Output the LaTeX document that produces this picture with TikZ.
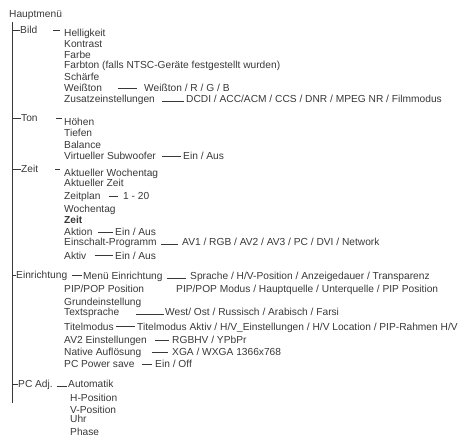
\documentclass[tikz,border=0pt]{standalone}
\usepackage{fontspec}
\setmainfont{Liberation Sans}
\usetikzlibrary{calc}
\definecolor{ink}{gray}{0.22}
\begin{document}
\begin{tikzpicture}[x=1pt,y=-1pt,
  t/.style={anchor=base west, inner sep=0pt, text=ink, font=\fontsize{10.2}{12}\selectfont},
  conn/.style={draw=ink, line width=0.8pt},
  trunk/.style={draw=ink, line width=1pt}]
\useasboundingbox (0,0) rectangle (462,435);
% level 0
\node[t] (hm) at (9,18) {Hauptmenü};
\coordinate (ttop) at (12,22);
\coordinate (tbot) at (12,403);
\draw[trunk] (ttop) -- (tbot);
% categories
\node[t] (bild) at (20,34) {Bild};
\node[t] (ton) at (21,122) {Ton};
\node[t] (zeit) at (21,173) {Zeit};
\node[t] (einr) at (16,278.5) {Einrichtung};
\node[t] (pcadj) at (18,387) {PC Adj.};
\foreach \n in {bild,ton,zeit,einr,pcadj}
  \draw[conn] (ttop |- \n.west) -- (\n.west);
% Bild
\node[t] (hell) at (64,36.5) {Helligkeit};
\node[t] (kontr) at (64,47.5) {Kontrast};
\node[t] (farbe) at (64,58.5) {Farbe};
\node[t] (farbton) at (64,68.5) {Farbton (falls NTSC-Geräte festgestellt wurden)};
\node[t] (schaerfe) at (64,80.5) {Schärfe};
\node[t] (weiss) at (64,91.5) {Weißton};
\node[t] (zusatz) at (64,102.5) {Zusatzeinstellungen};
\node[t] (weissv) at (144,91.5) {Weißton / R / G / B};
\node[t] (zusatzv) at (186,102.5) {DCDI / ACC/ACM / CCS / DNR / MPEG NR / Filmmodus};
\draw[conn, shorten <=16pt, shorten >=4pt] (bild.east) -- (bild.east -| hell.west);
\draw[conn, shorten <=16pt, shorten >=7pt] ([yshift=3.5pt]weiss.base east) -- ([yshift=3.5pt]weiss.base east -| weissv.west);
\draw[conn, shorten <=7pt, shorten >=2pt] ([yshift=1pt]zusatz.base east) -- ([yshift=1pt]zusatz.base east -| zusatzv.west);
% Ton
\node[t] (hoehen) at (64,125.5) {Höhen};
\node[t] (tiefen) at (64,137) {Tiefen};
\node[t] (balance) at (64,148.5) {Balance};
\node[t] (subw) at (64,159.5) {Virtueller Subwoofer};
\node[t] (subwv) at (183,159.5) {Ein / Aus};
\draw[conn, shorten <=18pt, shorten >=2pt] (ton.east) -- (ton.east -| hoehen.west);
\draw[conn, shorten <=6pt, shorten >=2pt] ([yshift=3.5pt]subw.base east) -- ([yshift=3.5pt]subw.base east -| subwv.west);
% Zeit
\node[t] (aktwt) at (64,176.5) {Aktueller Wochentag};
\node[t] (aktzeit) at (64,186.5) {Aktueller Zeit};
\node[t] (zeitplan) at (64,199.5) {Zeitplan};
\node[t] (wochentag) at (64,212.5) {Wochentag};
\node[t, font=\fontsize{10.2}{12}\selectfont\bfseries] (zeit2) at (64,223.5) {Zeit};
\node[t] (aktion) at (64,236) {Aktion};
\node[t] (einsch) at (64,245) {Einschalt-Programm};
\node[t] (aktiv) at (64,259) {Aktiv};
\node[t] (zeitplanv) at (123,199.5) {1 - 20};
\node[t] (aktionv) at (115,236) {Ein / Aus};
\node[t] (einschv) at (182,245) {AV1 / RGB / AV2 / AV3 / PC / DVI / Network};
\node[t] (aktivv) at (115,259) {Ein / Aus};
\draw[conn, shorten <=17pt, shorten >=4pt] (zeit.east) -- (zeit.east -| aktwt.west);
\draw[conn, shorten <=8pt, shorten >=5pt] ([yshift=3.5pt]zeitplan.base east) -- ([yshift=3.5pt]zeitplan.base east -| zeitplanv.west);
\draw[conn, shorten <=5pt, shorten >=2pt] ([yshift=3.5pt]aktion.base east) -- ([yshift=3.5pt]aktion.base east -| aktionv.west);
\draw[conn, shorten <=4pt, shorten >=4pt] ([yshift=1pt]einsch.base east) -- ([yshift=1pt]einsch.base east -| einschv.west);
\draw[conn, shorten <=8pt, shorten >=2pt] ([yshift=4pt]aktiv.base east) -- ([yshift=4pt]aktiv.base east -| aktivv.west);
% Einrichtung
\node[t] (menue) at (83,279.5) {Menü Einrichtung};
\node[t] (pip) at (64,292) {PIP/POP Position};
\node[t] (grund) at (64,305.5) {Grundeinstellung};
\node[t] (textspr) at (64,315.5) {Textsprache};
\node[t] (titel) at (64,330) {Titelmodus};
\node[t] (av2) at (64,343.5) {AV2 Einstellungen};
\node[t] (native) at (64,355.5) {Native Auflösung};
\node[t] (pcpower) at (64,367.5) {PC Power save};
\node[t] (menuev) at (190,279.5) {Sprache / H/V-Position / Anzeigedauer / Transparenz};
\node[t] (pipv) at (176,292) {PIP/POP Modus / Hauptquelle / Unterquelle / PIP Position};
\node[t] (textsprv) at (165,315.5) {West/ Ost / Russisch / Arabisch / Farsi};
\node[t] (titelv) at (137,330) {Titelmodus Aktiv / H/V\_Einstellungen / H/V Location / PIP-Rahmen H/V};
\node[t] (av2v) at (172,343.5) {RGBHV / YPbPr};
\node[t] (nativev) at (172,355.5) {XGA / WXGA 1366x768};
\node[t] (pcpowerv) at (155,367.5) {Ein / Off};
\draw[conn, shorten <=5pt, shorten >=1pt] (einr.east) -- (einr.east -| menue.west);
\draw[conn, shorten <=4pt, shorten >=4pt] ([yshift=1pt]menue.base east) -- ([yshift=1pt]menue.base east -| menuev.west);
\draw[conn, shorten <=17pt, shorten >=1pt] ([yshift=1pt]textspr.base east) -- ([yshift=1pt]textspr.base east -| textsprv.west);
\draw[conn, shorten <=2pt, shorten >=2pt] ([yshift=3.5pt]titel.base east) -- ([yshift=3.5pt]titel.base east -| titelv.west);
\draw[conn, shorten <=8pt, shorten >=3pt] ([yshift=3.5pt]av2.base east) -- ([yshift=3.5pt]av2.base east -| av2v.west);
\draw[conn, shorten <=10pt, shorten >=4pt] ([yshift=3.5pt]native.base east) -- ([yshift=3.5pt]native.base east -| nativev.west);
\draw[conn, shorten <=7pt, shorten >=3pt] ([yshift=3.5pt]pcpower.base east) -- ([yshift=3.5pt]pcpower.base east -| pcpowerv.west);
% PC Adj.
\node[t] (auto) at (68,387) {Automatik};
\node[t] (hpos) at (70,401) {H-Position};
\node[t] (vpos) at (70,413) {V-Position};
\node[t] (uhr) at (70,422.5) {Uhr};
\node[t] (phase) at (70,435.5) {Phase};
\draw[conn, shorten <=4pt, shorten >=1pt] ([yshift=1pt]pcadj.base east) -- ([yshift=1pt]pcadj.base east -| auto.west);
\end{tikzpicture}
\end{document}
